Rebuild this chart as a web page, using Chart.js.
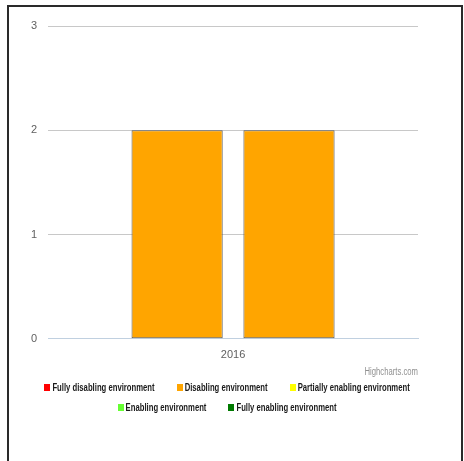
<!DOCTYPE html>
<html>
<head>
<meta charset="utf-8">
<script src="https://cdn.jsdelivr.net/npm/chart.js@4"></script>
<style>
  html, body { margin: 0; padding: 0; background: #fff; width: 464px; height: 461px; overflow: hidden; }
  #frame { position: absolute; left: 7px; top: 5px; width: 452px; height: 480px; border: 2px solid #2a2a2a; box-sizing: content-box; }
  #wrap { position: absolute; left: 0; top: 0; width: 464px; height: 461px; }
</style>
</head>
<body>
<div id="frame"></div>
<div id="wrap"><canvas id="c" width="464" height="461"></canvas></div>
<script>
// Categories and values
const years = ['2016'];
const seriesA = [2];
const seriesB = [2];
const yTicks = [0, 1, 2, 3];

// Legend entries (environment rating scale)
const legendNames = [
  'Fully disabling environment',
  'Disabling environment',
  'Partially enabling environment',
  'Enabling environment',
  'Fully enabling environment'
];
const legendColors = ['#FF0000', '#FFA500', '#FFFF00', '#66FF33', '#007A00'];
const creditText = 'Highcharts.com';

const barColor = '#FFA500';

// Narrow-style text: regular sans face squeezed horizontally
const NARROW = 0.77;
function narrowText(ctx, text, x, y, align) {
  const w = ctx.measureText(text).width * NARROW;
  const left = align === 'right' ? x - w : x;
  ctx.save();
  ctx.translate(left, y);
  ctx.scale(NARROW, 1);
  ctx.textAlign = 'left';
  ctx.fillText(text, 0, 0);
  ctx.restore();
  return w;
}

// Legend + credit line drawn under the x axis
const footerPlugin = {
  id: 'footer',
  afterDraw(chart) {
    const ctx = chart.ctx;
    const area = chart.chartArea;
    const base = area.bottom;

    ctx.save();
    ctx.textBaseline = 'middle';

    // credit
    ctx.font = '10px "Liberation Sans", sans-serif';
    ctx.fillStyle = '#909090';
    narrowText(ctx, creditText, area.right, base + 33, 'right');

    // legend rows
    ctx.font = 'bold 10px "Liberation Sans", sans-serif';
    const box = 6, boxGap = 2, itemGap = 22, maxRow = 390;
    const items = legendNames.map((n, i) => ({
      name: n, color: legendColors[i],
      w: box + boxGap + ctx.measureText(n).width * NARROW
    }));
    const rows = [];
    let cur = [], curW = 0;
    items.forEach(it => {
      const add = (cur.length ? itemGap : 0) + it.w;
      if (cur.length && curW + add > maxRow) { rows.push({ items: cur, w: curW }); cur = []; curW = 0; }
      curW += (cur.length ? itemGap : 0) + it.w;
      cur.push(it);
    });
    if (cur.length) rows.push({ items: cur, w: curW });

    const cx = (area.left + area.right) / 2 - 6;
    rows.forEach((row, r) => {
      const y = base + 49 + r * 20;
      let x = cx - row.w / 2;
      row.items.forEach(it => {
        ctx.fillStyle = it.color;
        ctx.fillRect(Math.round(x), Math.round(y - 3.5), box, 7);
        ctx.fillStyle = '#1a1a1a';
        narrowText(ctx, it.name, x + box + boxGap, y + 0.5, 'left');
        x += it.w + itemGap;
      });
    });
    ctx.restore();
  }
};

new Chart(document.getElementById('c'), {
  type: 'bar',
  data: {
    labels: years,
    datasets: [
      { label: legendNames[1], data: seriesA, backgroundColor: barColor, borderColor: '#555555', borderWidth: 1, borderSkipped: false,
        barPercentage: 0.815, categoryPercentage: 0.605 },
      { label: legendNames[1], data: seriesB, backgroundColor: barColor, borderColor: '#555555', borderWidth: 1, borderSkipped: false,
        barPercentage: 0.815, categoryPercentage: 0.605 }
    ]
  },
  options: {
    responsive: false,
    animation: false,
    layout: { padding: { left: 20, right: 46, top: 26, bottom: 89 } },
    scales: {
      x: {
        grid: { display: false, drawTicks: false },
        border: { color: '#C0D0E0', width: 1 },
        ticks: { color: '#606060', font: { family: 'Liberation Sans', size: 11 }, padding: 10 }
      },
      y: {
        min: 0, max: 3,
        afterBuildTicks: (axis) => { axis.ticks = yTicks.map(v => ({ value: v })); },
        grid: { color: (ctx) => ctx.tick && ctx.tick.value === 0 ? '#C0D0E0' : '#C8C8C8', drawTicks: false },
        border: { display: false },
        ticks: { color: '#606060', font: { family: 'Liberation Sans', size: 11 }, padding: 11 }
      }
    },
    plugins: {
      tooltip: { enabled: false },
      legend: { display: false }
    }
  },
  plugins: [footerPlugin]
});
</script>
</body>
</html>
